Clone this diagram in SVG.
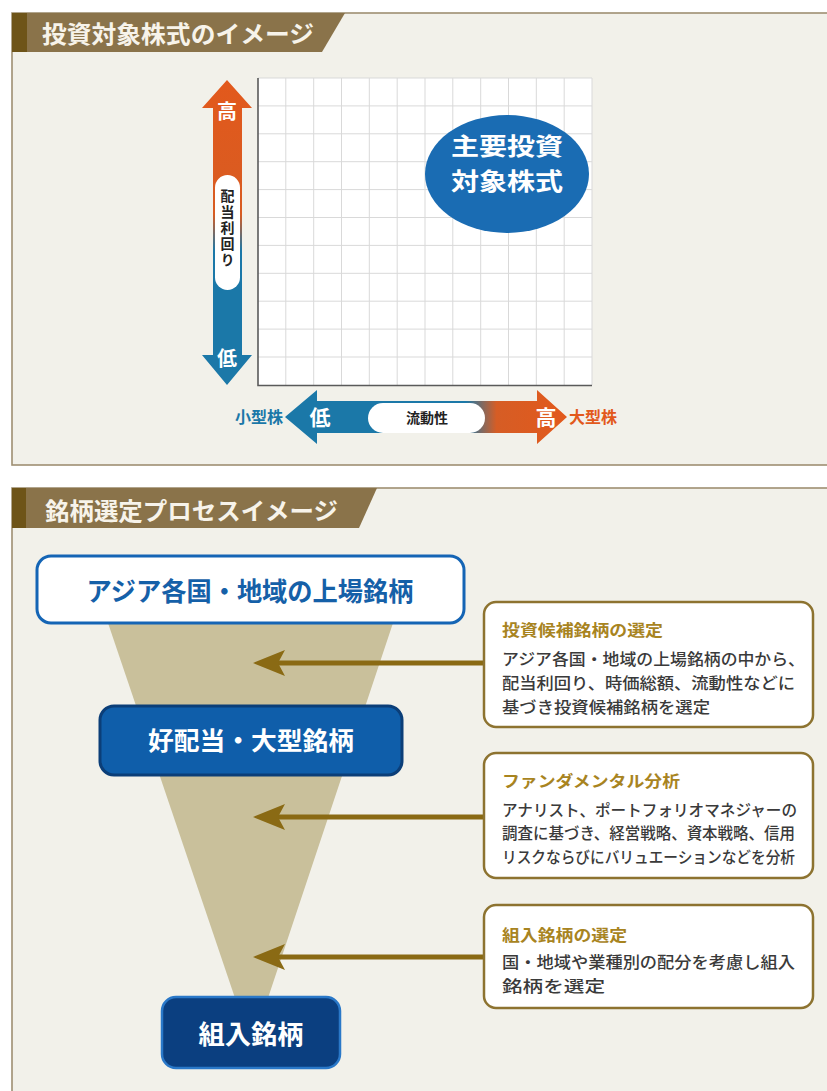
<svg xmlns="http://www.w3.org/2000/svg" width="827" height="1091" viewBox="0 0 827 1091">
<style>
.jp{font-family:"Noto Sans CJK JP","Noto Sans CJK SC",sans-serif;}
.tabt{font-size:24px;font-weight:bold;fill:#f7f3ea;}
.panel{fill:#f2f1ea;stroke:#9e8f72;stroke-width:1.6;}
.tab{fill:#8a734a;}
.tabbar{fill:#6e5418;}
.grid{stroke:#d9d9d9;stroke-width:1;fill:none;}
.axis{stroke:#5a5a5a;stroke-width:1.6;fill:none;}
.wt{fill:#ffffff;font-weight:bold;}
.pill{fill:#ffffff;}
.dark{fill:#222;font-weight:bold;}
.info{fill:#ffffff;stroke:#8d7330;stroke-width:2.5;}
.ititle{font-size:16px;font-weight:bold;fill:#a8841f;}
.ibody{font-size:16px;fill:#3a3a3a;font-weight:500;}
.conn{stroke:#8a6a14;stroke-width:5;fill:none;}
</style>
<defs>
<linearGradient id="gv" x1="0" y1="80" x2="0" y2="385" gradientUnits="userSpaceOnUse">
<stop offset="0" stop-color="#e2591c"/>
<stop offset="0.44" stop-color="#d85c22"/>
<stop offset="0.56" stop-color="#1b78a8"/>
<stop offset="1" stop-color="#1b78a8"/>
</linearGradient>
<linearGradient id="gh" x1="285" y1="0" x2="567" y2="0" gradientUnits="userSpaceOnUse">
<stop offset="0" stop-color="#1b78a8"/>
<stop offset="0.64" stop-color="#1b78a8"/>
<stop offset="0.75" stop-color="#d65d25"/>
<stop offset="1" stop-color="#e2591c"/>
</linearGradient>
<marker id="ah" viewBox="0 0 32 26" refX="22" refY="13" markerWidth="32" markerHeight="26" markerUnits="userSpaceOnUse" orient="auto">
<path d="M0,0 L32,13 L0,26 L7,13 z" fill="#8a6a14"/>
</marker>
</defs>
<rect width="827" height="1091" fill="#ffffff"/>

<!-- Panel 1 -->
<g id="panel1">
<rect class="panel" x="12" y="13" width="840" height="452"/>
<polygon class="tab" points="12,13 345,13 322,52 12,52"/>
<rect class="tabbar" x="12" y="13" width="15" height="39"/>
<text class="jp tabt" x="42" y="43" textLength="272" lengthAdjust="spacingAndGlyphs">投資対象株式のイメージ</text>
</g>

<g id="chart">
<rect x="258" y="78" width="334" height="307" fill="#ffffff"/>
<path class="grid" d="M285.8,78V385M313.7,78V385M341.5,78V385M369.3,78V385M397.2,78V385M425,78V385M452.8,78V385M480.7,78V385M508.5,78V385M536.3,78V385M564.2,78V385M592,78V385M258,78H592M258,105.9H592M258,133.8H592M258,161.7H592M258,189.6H592M258,217.5H592M258,245.4H592M258,273.3H592M258,301.2H592M258,329.1H592M258,357H592"/>
<path class="axis" d="M258,78V385.5H592"/>
</g>

<g id="axis-y">
<polygon fill="url(#gv)" points="227,80 252,108 242,108 242,355 252,355 227,385 202,355 213,355 213,108 202,108"/>
<text class="jp wt" x="227" y="119" font-size="20" text-anchor="middle">高</text>
<text class="jp wt" x="227" y="366" font-size="20" text-anchor="middle">低</text>
<rect class="pill" x="215" y="175" width="25" height="115" rx="12.5"/>
<text class="jp dark" x="227.5" y="229" font-size="14" text-anchor="middle" style="writing-mode:vertical-rl" letter-spacing="2">配当利回り</text>
</g>

<g id="axis-x">
<polygon fill="url(#gh)" points="285,417 317,390 317,401 537,401 537,390 567,417 537,444 537,433 317,433 317,444"/>
<text class="jp wt" x="320" y="425" font-size="21" text-anchor="middle">低</text>
<text class="jp wt" x="546" y="425" font-size="21" text-anchor="middle">高</text>
<rect class="pill" x="368" y="403" width="117" height="30" rx="15"/>
<text class="jp dark" x="427" y="423" font-size="14" text-anchor="middle">流動性</text>
<text class="jp" x="283" y="423" font-size="16" font-weight="bold" fill="#1b78a8" text-anchor="end">小型株</text>
<text class="jp" x="569" y="423" font-size="16" font-weight="bold" fill="#e2591c">大型株</text>
</g>

<g id="main-target">
<ellipse cx="507" cy="174" rx="82" ry="59" fill="#1a6cb3"/>
<text class="jp wt" x="507" y="155" font-size="24" text-anchor="middle" textLength="112" lengthAdjust="spacingAndGlyphs">主要投資</text>
<text class="jp wt" x="507" y="190" font-size="24" text-anchor="middle" textLength="112" lengthAdjust="spacingAndGlyphs">対象株式</text>
</g>

<!-- Panel 2 -->
<g id="panel2">
<rect class="panel" x="12" y="488" width="840" height="640"/>
<polygon class="tab" points="12,488 377,488 359,528 12,528"/>
<rect class="tabbar" x="12" y="488" width="14" height="40"/>
<text class="jp tabt" x="45" y="520" textLength="293" lengthAdjust="spacingAndGlyphs">銘柄選定プロセスイメージ</text>
</g>

<g id="funnel">
<polygon points="108,623 393,623 268,998 235,998" fill="#c9c09b"/>
</g>

<g id="node-all">
<rect x="37" y="556" width="427" height="67" rx="14" fill="#ffffff" stroke="#1565b5" stroke-width="3"/>
<text class="jp" x="250" y="601" font-size="26" font-weight="bold" fill="#1560a8" text-anchor="middle" textLength="327" lengthAdjust="spacingAndGlyphs">アジア各国・地域の上場銘柄</text>
</g>

<g id="node-high-div">
<rect x="100" y="706" width="302" height="69" rx="14" fill="#0f5eaa" stroke="#0b3e78" stroke-width="3"/>
<text class="jp wt" x="251" y="750" font-size="25" text-anchor="middle" textLength="206" lengthAdjust="spacingAndGlyphs">好配当・大型銘柄</text>
</g>

<g id="node-final">
<rect x="162" y="997" width="178" height="71" rx="14" fill="#0b3f80" stroke="#2a78c8" stroke-width="2.5"/>
<text class="jp wt" x="251" y="1044" font-size="26" text-anchor="middle" textLength="105" lengthAdjust="spacingAndGlyphs">組入銘柄</text>
</g>

<g id="connectors">
<line class="conn" x1="484" y1="663" x2="263" y2="663" marker-end="url(#ah)"/>
<line class="conn" x1="484" y1="817" x2="263" y2="817" marker-end="url(#ah)"/>
<line class="conn" x1="484" y1="957" x2="263" y2="957" marker-end="url(#ah)"/>
</g>

<g id="info-1">
<rect class="info" x="484" y="602" width="329" height="125" rx="12"/>
<text class="jp ititle" x="502" y="636" textLength="161" lengthAdjust="spacingAndGlyphs">投資候補銘柄の選定</text>
<text class="jp ibody" x="502" y="665" textLength="303" lengthAdjust="spacingAndGlyphs">アジア各国・地域の上場銘柄の中から、</text>
<text class="jp ibody" x="502" y="689" textLength="293" lengthAdjust="spacingAndGlyphs">配当利回り、時価総額、流動性などに</text>
<text class="jp ibody" x="502" y="713" textLength="208" lengthAdjust="spacingAndGlyphs">基づき投資候補銘柄を選定</text>
</g>

<g id="info-2">
<rect class="info" x="484" y="753" width="329" height="125" rx="12"/>
<text class="jp ititle" x="502" y="787" textLength="178" lengthAdjust="spacingAndGlyphs">ファンダメンタル分析</text>
<text class="jp ibody" x="502" y="816" textLength="295" lengthAdjust="spacingAndGlyphs">アナリスト、ポートフォリオマネジャーの</text>
<text class="jp ibody" x="502" y="839" textLength="293" lengthAdjust="spacingAndGlyphs">調査に基づき、経営戦略、資本戦略、信用</text>
<text class="jp ibody" x="502" y="863" textLength="293" lengthAdjust="spacingAndGlyphs">リスクならびにバリュエーションなどを分析</text>
</g>

<g id="info-3">
<rect class="info" x="484" y="905" width="329" height="103" rx="12"/>
<text class="jp ititle" x="502" y="941" textLength="125" lengthAdjust="spacingAndGlyphs">組入銘柄の選定</text>
<text class="jp ibody" x="502" y="968" textLength="293" lengthAdjust="spacingAndGlyphs">国・地域や業種別の配分を考慮し組入</text>
<text class="jp ibody" x="502" y="992" textLength="103" lengthAdjust="spacingAndGlyphs">銘柄を選定</text>
</g>
</svg>
